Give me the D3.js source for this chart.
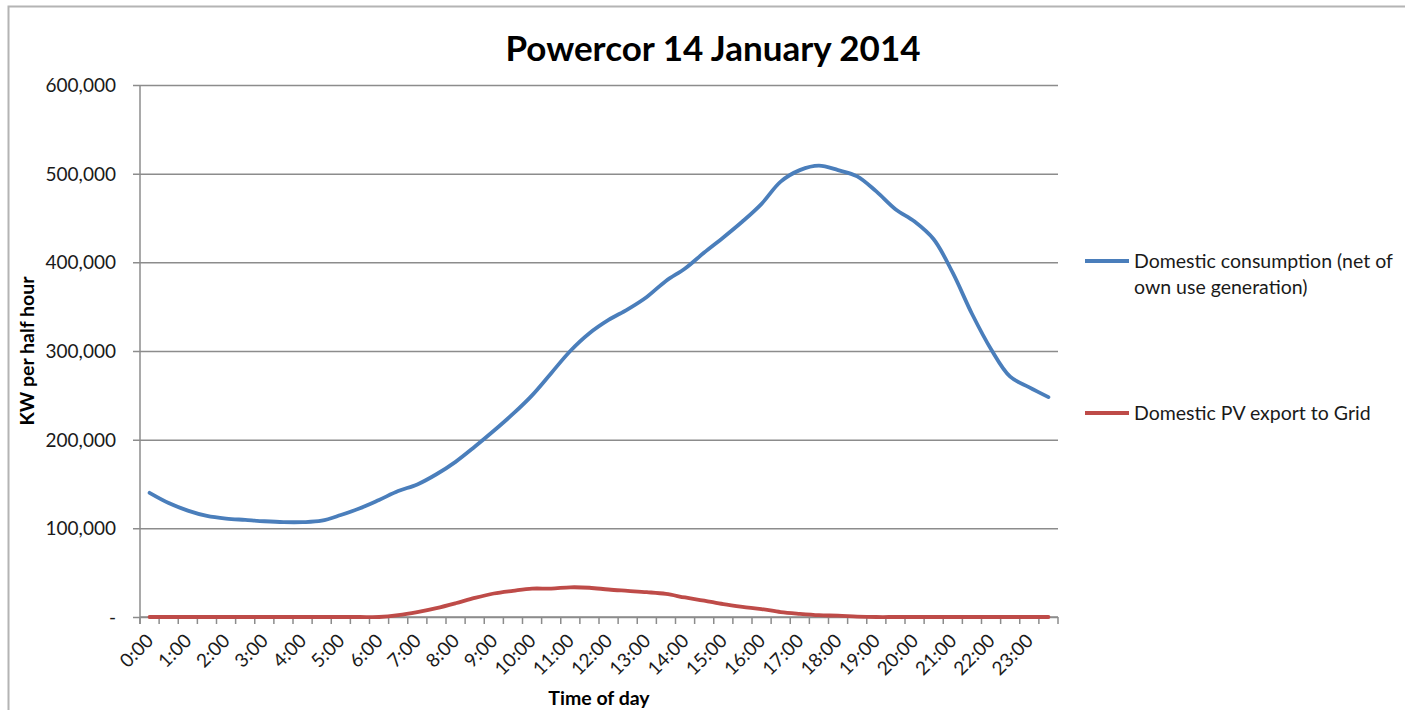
<!DOCTYPE html>
<html>
<head>
<meta charset="utf-8">
<script src="https://cdn.jsdelivr.net/npm/d3@7"></script>
<style>
  body { margin: 0; background: #fff; }
  svg text { font-family: Lato, "Noto Sans", sans-serif; fill: #1a1a1a; }
</style>
</head>
<body>
<div id="chart"></div>
<script>
// half-hour slots, labels shown on the hour
var slots = d3.range(48).map(function(i) {
    return Math.floor(i / 2) + ":" + (i % 2 ? "30" : "00");
});

// Domestic consumption (net of own use generation), kW per half hour
var consumption = [
  140000, 128500, 120000, 114000, 111000, 109500, 108000, 107000,
  107000, 108600, 115000, 122600, 132000, 142000, 149500, 161000,
  175000, 192000, 210000, 229000, 250000, 275000, 300000, 320000,
  335000, 347000, 361000, 379000, 393000, 411000, 428000, 446000,
  466000, 491000, 504000, 509000, 504000, 497000, 480000, 460000,
  446000, 426000, 388000, 342000, 302000, 271000, 259000, 248000
];

// Domestic PV export to Grid
var pvExport = [
  0, 0, 0, 0, 0, 0, 0, 0,
  0, 0, 0, 0, 0, 2000, 5500, 10000,
  15500, 21500, 26500, 29500, 32000, 32000, 33500, 33000,
  31000, 29500, 28000, 26000, 22000, 18500, 14500, 11500,
  9000, 5500, 3500, 2000, 1500, 500, 0, 0,
  0, 0, 0, 0, 0, 0, 0, 0
];

var yTicks = [0, 100000, 200000, 300000, 400000, 500000, 600000];

var series = [
  {name: ["Domestic consumption (net of", "own use generation)"], values: consumption, color: "#4a7ebb", legendY: 261},
  {name: ["Domestic PV export to Grid"], values: pvExport, color: "#be4b48", legendY: 413}
];

var width = 1405, height = 710;
var plot = {left: 140, right: 1058, top: 85, bottom: 617};

var svg = d3.select("#chart").append("svg")
    .attr("width", width)
    .attr("height", height);

// chart frame
svg.append("rect")
    .attr("x", 8.5).attr("y", 6.5)
    .attr("width", width).attr("height", height)
    .attr("fill", "none")
    .attr("stroke", "#b4b4b4")
    .attr("stroke-width", 2);

var xBand = d3.scaleBand()
    .domain(slots)
    .range([plot.left, plot.right]);

var yScale = d3.scaleLinear()
    .domain([0, 600000])
    .range([plot.bottom, plot.top]);

// gridlines + y ticks
var yAxis = d3.axisLeft(yScale)
    .tickValues(yTicks)
    .tickSize(0)
    .tickFormat(function(d) { return d === 0 ? "-" : d3.format(",")(d); });

var gy = svg.append("g")
    .attr("transform", "translate(" + (plot.left - 7) + ",0)")
    .call(yAxis);
gy.select(".domain").remove();
gy.selectAll(".tick line")
    .attr("x1", 0)
    .attr("x2", plot.right - plot.left + 7)
    .attr("stroke", "#8c8c8c")
    .attr("stroke-width", 1.5);
gy.selectAll(".tick text")
    .attr("x", -17)
    .attr("dy", "0.34em")
    .style("font-size", "19px");

// y axis line
svg.append("line")
    .attr("x1", plot.left).attr("x2", plot.left)
    .attr("y1", plot.top).attr("y2", plot.bottom + 7)
    .attr("stroke", "#8c8c8c")
    .attr("stroke-width", 1.5);

// x axis: tick marks between categories, labels on each hour
var gx = svg.append("g")
    .attr("transform", "translate(0," + plot.bottom + ")");
gx.append("line")
    .attr("x1", plot.left).attr("x2", plot.right)
    .attr("stroke", "#8c8c8c")
    .attr("stroke-width", 1.5);
gx.selectAll("line.tk")
    .data(d3.range(49))
    .enter().append("line")
    .attr("class", "tk")
    .attr("x1", function(i) { return plot.left + i * xBand.step(); })
    .attr("x2", function(i) { return plot.left + i * xBand.step(); })
    .attr("y1", 0).attr("y2", 7)
    .attr("stroke", "#8c8c8c")
    .attr("stroke-width", 1.5);
gx.selectAll("text.lbl")
    .data(slots.filter(function(d, i) { return i % 2 === 0; }))
    .enter().append("text")
    .attr("class", "lbl")
    .attr("text-anchor", "end")
    .attr("transform", function(d) {
        var cx = xBand(d) + xBand.bandwidth() / 2;
        return "translate(" + (cx + 5) + ",25) rotate(-45)";
    })
    .style("font-size", "19px")
    .text(function(d) { return d; });

// lines
var line = d3.line()
    .x(function(d, i) { return xBand(slots[i]) + xBand.bandwidth() / 2; })
    .y(function(d) { return yScale(d); })
    .curve(d3.curveCatmullRom.alpha(0.5));

svg.selectAll("path.series")
    .data(series)
    .enter().append("path")
    .attr("class", "series")
    .attr("d", function(s) { return line(s.values); })
    .attr("fill", "none")
    .attr("stroke", function(s) { return s.color; })
    .attr("stroke-width", 3.8)
    .attr("stroke-linejoin", "round")
    .attr("stroke-linecap", "round");

// legend
var legend = svg.selectAll("g.legend")
    .data(series)
    .enter().append("g")
    .attr("class", "legend")
    .attr("transform", function(s) { return "translate(1085," + s.legendY + ")"; });
legend.append("line")
    .attr("x1", 0).attr("x2", 44)
    .attr("stroke", function(s) { return s.color; })
    .attr("stroke-width", 3.8);
legend.append("text")
    .attr("x", 49)
    .attr("y", 7)
    .style("font-size", "19.5px")
    .selectAll("tspan")
    .data(function(s) { return s.name; })
    .enter().append("tspan")
    .attr("x", 49)
    .attr("dy", function(d, i) { return i ? 26 : 0; })
    .text(function(d) { return d; });

// title
svg.append("text")
    .attr("x", 713).attr("y", 61)
    .attr("text-anchor", "middle")
    .style("font-size", "35px")
    .style("font-weight", "bold")
    .style("fill", "#000")
    .text("Powercor 14 January 2014");

// axis titles
svg.append("text")
    .attr("transform", "translate(34," + ((plot.top + plot.bottom) / 2) + ") rotate(-90)")
    .attr("text-anchor", "middle")
    .style("font-size", "19.5px")
    .style("font-weight", "bold")
    .style("fill", "#000")
    .text("KW per half hour");

svg.append("text")
    .attr("x", (plot.left + plot.right) / 2)
    .attr("y", 705)
    .attr("text-anchor", "middle")
    .style("font-size", "19.5px")
    .style("font-weight", "bold")
    .style("fill", "#000")
    .text("Time of day");
</script>
</body>
</html>
